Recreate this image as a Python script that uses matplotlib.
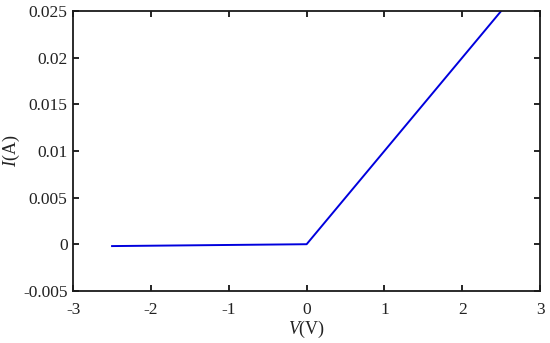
import matplotlib
matplotlib.use("Agg")
import matplotlib.pyplot as plt
from matplotlib.ticker import FuncFormatter

voltage = [-2.5, 0.0, 2.5]
current = [-0.0002, 0.0, 0.025]
x_ticks = [-3, -2, -1, 0, 1, 2, 3]
y_ticks = [-0.005, 0, 0.005, 0.01, 0.015, 0.02, 0.025]

plt.rcParams['font.family'] = ['Liberation Serif', 'DejaVu Serif']
plt.rcParams['mathtext.fontset'] = 'custom'
plt.rcParams['mathtext.rm'] = 'Liberation Serif'
plt.rcParams['mathtext.it'] = 'Liberation Serif:italic'
plt.rcParams['axes.unicode_minus'] = False

fig = plt.figure(figsize=(5.5, 3.43), dpi=100)
ax = fig.add_axes([0.133, 0.152, 0.849, 0.816])
ax.plot(voltage, current, color='#0000dd', lw=1.4)
ax.set_xlim(-3, 3)
ax.set_ylim(-0.005, 0.025)
ax.set_xticks(x_ticks)
ax.set_yticks(y_ticks)
ax.xaxis.set_major_formatter(FuncFormatter(lambda v, p: f"{v:g}"))
ax.yaxis.set_major_formatter(FuncFormatter(lambda v, p: f"{v:g}"))
ax.tick_params(direction='in', top=True, right=True, length=4, width=1.2,
               labelsize=12.5, labelcolor='#222222')
ax.tick_params(axis='x', pad=8)
ax.tick_params(axis='y', pad=4)
for s in ax.spines.values():
    s.set_linewidth(1.3)
    s.set_color('#1a1a1a')
ax.set_xlabel(r'$\it{V}$(V)', fontsize=13, labelpad=1, color='#222222')
ax.set_ylabel(r'$\it{I}$(A)', fontsize=13, labelpad=1, color='#222222')
fig.savefig('out.png', dpi=100)
